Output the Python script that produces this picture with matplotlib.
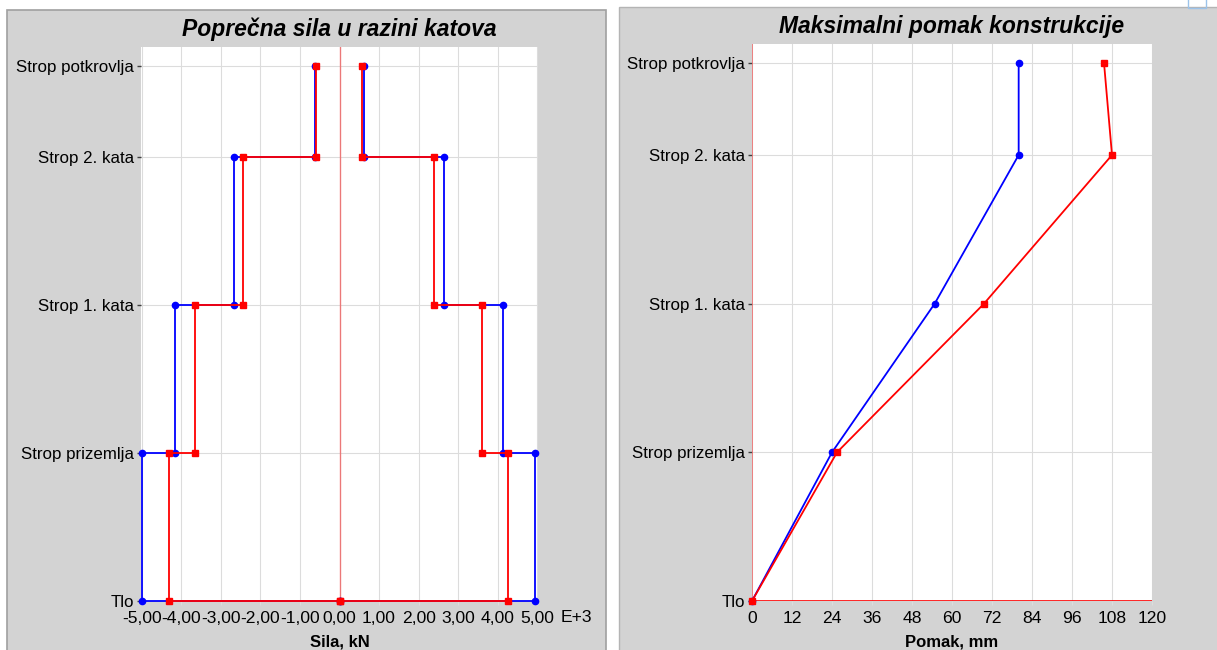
import numpy as np
import matplotlib.pyplot as plt
from matplotlib.patches import Rectangle

plt.rcParams['font.family'] = ['Liberation Sans', 'DejaVu Sans']

# floor levels (bottom to top) and their heights, m
levels = ['Tlo', 'Strop prizemlja', 'Strop 1. kata', 'Strop 2. kata',
          'Strop potkrovlja']
heights = [0.0, 3.0, 6.0, 9.0, 10.86]

# storey shear, kN x 1000 (storey 1 .. 4)
shear_blue_pos = [4.95, 4.14, 2.65, 0.62]
shear_blue_neg = [-4.99, -4.17, -2.68, -0.63]
shear_red_pos = [4.27, 3.61, 2.40, 0.57]
shear_red_neg = [-4.32, -3.66, -2.45, -0.59]

# max displacement at each level, mm
disp_blue = [0.0, 24.0, 54.8, 80.0, 80.0]
disp_red = [0.0, 25.5, 69.6, 108.0, 105.6]

shear_ticks = np.arange(-5, 6, 1)
disp_ticks = np.arange(0, 121, 12)

W, H = 1217, 650
GRID = '#dcdcdc'


def _steps(values):
    """ vertices of a stepped shear diagram from storey values """
    xs, ys = [0.0], [heights[0]]
    for i, v in enumerate(values):
        xs += [v, v]
        ys += [heights[i], heights[i + 1]]
    return xs, ys


def _axes(left, top, right, bottom):
    """ axes from pixel box """
    return fig.add_axes([left / W, (H - bottom) / H,
                         (right - left) / W, (bottom - top) / H])


def _style(ax, title, xlabel):
    ax.set_facecolor('white')
    for s in ax.spines.values():
        s.set_visible(False)
    ax.set_ylim(0, 11.24)
    ax.set_yticks(heights)
    ax.set_yticklabels(levels, fontsize=12.2)
    ax.tick_params(axis='y', length=3, width=1, color='#404040', pad=2)
    ax.tick_params(axis='x', length=3, width=0.8, color=GRID, pad=4,
                   labelsize=12.6)
    ax.grid(True, color=GRID, lw=0.8)
    ax.set_axisbelow(True)
    ax.set_title(title, fontsize=16.5, fontweight='bold', style='italic',
                 pad=8)
    ax.set_xlabel(xlabel, fontsize=12, fontweight='bold', labelpad=6)


fig = plt.figure(figsize=(W / 100, H / 100), dpi=100)
fig.patch.set_facecolor('white')

# grey panel frames
fig.patches.append(Rectangle((7 / W, -0.1), 599 / W, (H - 10) / H + 0.1,
                             transform=fig.transFigure, facecolor='#d3d3d3',
                             edgecolor='#a0a0a0', lw=1.2, zorder=-10))
fig.patches.append(Rectangle((619 / W, -0.1), 0.6, (H - 7) / H + 0.1,
                             transform=fig.transFigure, facecolor='#d3d3d3',
                             edgecolor='#b4b4b4', lw=1.0, zorder=-10))
fig.patches.append(Rectangle((1188 / W, (H - 8) / H), 18 / W, 0.05,
                             transform=fig.transFigure, facecolor='none',
                             edgecolor='#9cc3ea', lw=1.0, zorder=-5))

# left: shear force
ax1 = _axes(141, 47, 538, 601)
_style(ax1, 'Poprečna sila u razini katova', 'Sila, kN')
ax1.set_xlim(-5.02, 5.02)
ax1.set_xticks(shear_ticks)
ax1.set_xticklabels([('%.2f' % t).replace('.', ',') for t in shear_ticks])
ax1.axvline(0, color='#ff0000', alpha=0.45, lw=1, zorder=1)
for vals in (shear_blue_pos, shear_blue_neg):
    xs, ys = _steps(vals)
    ax1.plot(xs, ys, color='#0000ff', lw=1.3, marker='o', ms=4.5,
             zorder=3, clip_on=False)
for vals in (shear_red_pos, shear_red_neg):
    xs, ys = _steps(vals)
    ax1.plot(xs, ys, color='#ff0000', lw=1.3, marker='s', ms=4.5,
             zorder=4, clip_on=False)
fig.text(576 / W, (H - 617) / H, 'E+3', fontsize=12.6, ha='center',
         va='center')

# right: displacement
ax2 = _axes(752, 44, 1152, 601)
_style(ax2, 'Maksimalni pomak konstrukcije', 'Pomak, mm')
ax2.set_xlim(0, 120)
ax2.set_xticks(disp_ticks)
ax2.axvline(0, color='#f07070', lw=1.2, zorder=2)
ax2.axhline(0, color='#ff0000', lw=1.2, zorder=2)
ax2.plot(disp_blue, heights, color='#0000ff', lw=1.3, marker='o', ms=4.5,
         zorder=3, clip_on=False)
ax2.plot(disp_red, heights, color='#ff0000', lw=1.3, marker='s', ms=4.5,
         zorder=4, clip_on=False)

fig.savefig('out.png', dpi=100)
